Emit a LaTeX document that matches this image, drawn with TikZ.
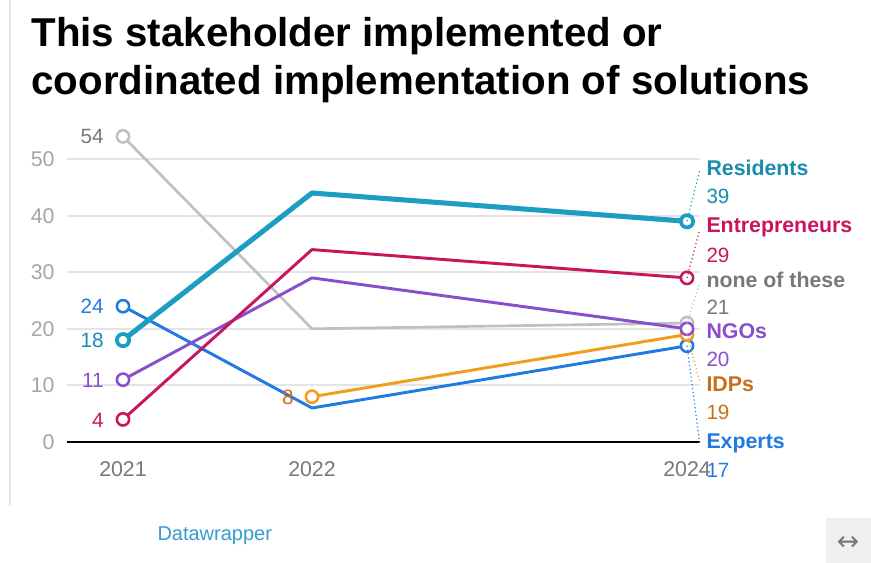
\documentclass[tikz,border=0pt]{standalone}
\usepackage{fontspec}
\setmainfont{Liberation Sans}
\newfontfamily\symfont{DejaVu Sans}

\definecolor{resid}{RGB}{27,158,194}
\definecolor{residtxt}{RGB}{26,140,175}
\definecolor{entre}{RGB}{200,22,94}
\definecolor{nonegrey}{RGB}{192,192,192}
\definecolor{nonetxt}{RGB}{120,120,120}
\definecolor{ngo}{RGB}{137,78,204}
\definecolor{idp}{RGB}{243,157,30}
\definecolor{idptxt}{RGB}{200,112,25}
\definecolor{expert}{RGB}{31,122,226}
\definecolor{axisgrey}{RGB}{165,165,165}
\definecolor{gridgrey}{RGB}{228,228,228}
\definecolor{dwblue}{RGB}{52,156,206}

\tikzset{every picture/.style={line width=0.75pt}}

\begin{document}
\begin{tikzpicture}[x=0.75pt,y=0.75pt,yscale=-1,xscale=1,
  gridline/.style={draw=gridgrey,line width=0.8pt},
  series/.style={line width=2.2pt,line join=round},
  dot/.style={fill=white,line width=1.9pt},
  leader/.style={dotted,line width=0.9pt},
  ticklab/.style={anchor=east,inner sep=0pt,text=axisgrey,font=\fontsize{16}{18}\selectfont},
  yearlab/.style={inner sep=0pt,text=nonetxt,font=\fontsize{16}{18}\selectfont},
  vallab/.style={anchor=east,inner sep=0pt,font=\fontsize{15.5}{17}\selectfont},
  namelab/.style={anchor=west,inner sep=0.75pt,font=\bfseries\fontsize{16}{18}\selectfont},
  numlab/.style={anchor=west,inner sep=0.75pt,font=\fontsize{15.5}{17}\selectfont}]
\useasboundingbox (0,0) rectangle (871,563);

% frame line on the left
\draw [draw=gridgrey,line width=1pt] (10,0) -- (10,505) ;

% Title
\node [anchor=base west,inner sep=0pt,font=\bfseries\fontsize{30.2}{34}\selectfont] (title1) at (31,47) {This stakeholder implemented or};
\node [anchor=base west,inner sep=0pt,font=\bfseries\fontsize{30.2}{34}\selectfont] (title2) at (31,95) {coordinated implementation of solutions};

% Grid and axis
\foreach \v/\yy in {10/385,20/329,30/272,40/216,50/159}{
  \draw [gridline] (67,\yy) -- (700,\yy) ;
  \node [ticklab] at (55,\yy) {\v};
}
\node [ticklab] at (55,442) {0};
\draw [line width=1.6pt] (67,442) -- (700,442) ;

% Years
\node [yearlab] (y2021) at (123,469) {2021};
\node [yearlab] (y2022) at (312,469) {2022};
\node [yearlab] (y2024) at (687,469) {2024};

% Series points
\coordinate (g1) at (123,136.4); \coordinate (g2) at (312,328.8); \coordinate (g3) at (687,323.1);
\coordinate (e1) at (123,306.2); \coordinate (e2) at (312,408.0); \coordinate (e3) at (687,345.8);
\coordinate (i2) at (312,396.7); \coordinate (i3) at (687,334.5);
\coordinate (n1) at (123,379.7); \coordinate (n2) at (312,277.9); \coordinate (n3) at (687,328.8);
\coordinate (p1) at (123,419.4); \coordinate (p2) at (312,249.6); \coordinate (p3) at (687,277.9);
\coordinate (r1) at (123,340.1); \coordinate (r2) at (312,193.0); \coordinate (r3) at (687,221.3);

% Lines
\draw [series,nonegrey,line width=2pt] (g1) -- (g2) -- (g3) ;
\draw [series,expert] (e1) -- (e2) -- (e3) ;
\draw [series,idp] (i2) -- (i3) ;
\draw [series,ngo] (n1) -- (n2) -- (n3) ;
\draw [series,entre] (p1) -- (p2) -- (p3) ;
\draw [series,resid,line width=3.8pt] (r1) -- (r2) -- (r3) ;

% Markers
\draw [dot,draw=nonegrey] (g1) circle (4.6pt) ;
\draw [dot,draw=nonegrey] (g3) circle (4.6pt) ;
\draw [dot,draw=expert] (e1) circle (4.6pt) ;
\draw [dot,draw=expert] (e3) circle (4.6pt) ;
\draw [dot,draw=idp] (i2) circle (4.6pt) ;
\draw [dot,draw=idp] (i3) circle (4.6pt) ;
\draw [dot,draw=ngo] (n1) circle (4.6pt) ;
\draw [dot,draw=ngo] (n3) circle (4.6pt) ;
\draw [dot,draw=entre] (p1) circle (4.6pt) ;
\draw [dot,draw=entre] (p3) circle (4.6pt) ;
\draw [dot,draw=resid,line width=2.8pt] (r1) circle (4.6pt) ;
\draw [dot,draw=resid,line width=2.8pt] (r3) circle (4.6pt) ;

% Start values
\node [vallab,text=nonetxt] (v54) at (104,136) {54};
\node [vallab,text=expert] (v24) at (104,306) {24};
\node [vallab,text=residtxt] (v18) at (104,340) {18};
\node [vallab,text=ngo] (v11) at (104,380) {11};
\node [vallab,text=entre] (v4) at (104,420) {4};
\node [vallab,text=idptxt] (v8) at (294,397) {8};

% End labels
\node [namelab,text=residtxt] (resL) at (705,168) {Residents};
\node [numlab,text=residtxt] at (705,196) {39};
\node [namelab,text=entre] (entL) at (705,227) {Entrepreneurs};
\node [numlab,text=entre] at (705,255) {29};
\node [namelab,text=nonetxt] (nonL) at (705,280) {none of these};
\node [numlab,text=nonetxt] at (705,307) {21};
\node [namelab,text=ngo] (ngoL) at (705,331) {NGOs};
\node [numlab,text=ngo] at (705,359) {20};
\node [namelab,text=idptxt] (idpL) at (705,384) {IDPs};
\node [numlab,text=idptxt] at (705,412) {19};
\node [namelab,text=expert] (expL) at (705,443) {Experts};
\node [numlab,text=expert] at (705,470) {17};

% Leaders
\draw [leader,resid] (r3) -- ([xshift=-4pt,yshift=2pt]resL.west) ;
\draw [leader,entre] (p3) -- ([xshift=-4pt,yshift=2pt]entL.west) ;
\draw [leader,nonegrey] (g3) -- ([xshift=-4pt,yshift=2pt]nonL.west) ;
\draw [leader,idp] (i3) -- ([xshift=-4pt,yshift=-2pt]idpL.west) ;
\draw [leader,expert] (e3) -- ([xshift=-4pt]expL.west) ;

% Footer
\node [anchor=west,inner sep=0pt,text=dwblue,font=\fontsize{15}{17}\selectfont] (credit) at (157,536) {Datawrapper};
\fill [gridgrey!60] (826,518) rectangle (871,563) ;
\node [text=nonetxt,font=\symfont\fontsize{20}{22}\selectfont] (resize) at (848,543) {↔};
\end{tikzpicture}
\end{document}
